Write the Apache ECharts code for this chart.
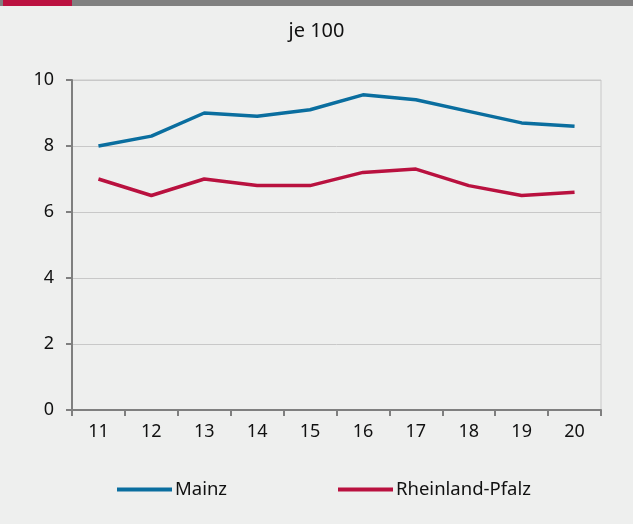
<!DOCTYPE html>
<html>
<head>
<meta charset="utf-8">
<script src="https://cdn.jsdelivr.net/npm/echarts@6/dist/echarts.min.js"></script>
<style>
  html, body { margin: 0; padding: 0; background: #eeefee; }
  #chart { width: 633px; height: 524px; }
</style>
</head>
<body>
<div id="chart"></div>
<script>
  var categories = ['11', '12', '13', '14', '15', '16', '17', '18', '19', '20'];
  var mainz = [8.0, 8.3, 9.0, 8.9, 9.1, 9.55, 9.4, 9.05, 8.7, 8.6];
  var rlp = [7.0, 6.5, 7.0, 6.8, 6.8, 7.2, 7.3, 6.8, 6.5, 6.6];
  var seriesNames = ['Mainz', 'Rheinland-Pfalz'];
  var colors = ['#0a6e9f', '#b9113f'];

  var font = '"Noto Sans", sans-serif';
  var chart = echarts.init(document.getElementById('chart'));
  var option = {
    backgroundColor: '#eeefee',
    color: colors,
    animation: false,
    title: {
      text: 'je 100',
      left: 'center',
      top: 16,
      textStyle: { color: '#111', fontSize: 20, fontWeight: 'normal', fontFamily: font }
    },
    graphic: [
      { type: 'rect', shape: { x: 0, y: 0, width: 633, height: 6 }, style: { fill: '#808080' } },
      { type: 'rect', shape: { x: 3, y: 0, width: 69, height: 6 }, style: { fill: '#bb1240' } }
    ],
    legend: [
      {
        data: [seriesNames[0]],
        left: 112, top: 475,
        itemWidth: 55, itemHeight: 4, itemGap: 4,
        icon: 'rect',
        textStyle: { color: '#111', fontSize: 18.5, fontFamily: font, padding: [0, 0, 0, -2] }
      },
      {
        data: [seriesNames[1]],
        left: 333, top: 475,
        itemWidth: 55, itemHeight: 4, itemGap: 4,
        icon: 'rect',
        textStyle: { color: '#111', fontSize: 18.5, fontFamily: font, padding: [0, 0, 0, -2] }
      }
    ],
    grid: {
      left: 72, right: 32, top: 80, bottom: 114,
      show: true, borderColor: '#c8c8c8', borderWidth: 1, backgroundColor: 'transparent'
    },
    xAxis: {
      type: 'category',
      data: categories,
      boundaryGap: true,
      axisLine: { lineStyle: { color: '#7f7f7f', width: 2 } },
      axisTick: { show: true, length: 6, lineStyle: { color: '#7f7f7f', width: 2 } },
      axisLabel: { color: '#111', fontSize: 18, fontFamily: font, margin: 13 },
      splitLine: { show: false }
    },
    yAxis: {
      type: 'value',
      min: 0, max: 10, interval: 2,
      axisLine: { show: true, lineStyle: { color: '#7f7f7f', width: 2 } },
      axisTick: { show: true, length: 6, lineStyle: { color: '#7f7f7f', width: 2 } },
      axisLabel: { color: '#111', fontSize: 18, fontFamily: font, margin: 18 },
      splitLine: { lineStyle: { color: '#c8c8c8', width: 1 } }
    },
    series: [
      {
        name: seriesNames[0], type: 'line', data: mainz,
        symbol: 'none', lineStyle: { width: 3.5, color: colors[0] }
      },
      {
        name: seriesNames[1], type: 'line', data: rlp,
        symbol: 'none', lineStyle: { width: 3.5, color: colors[1] }
      }
    ]
  };
  chart.setOption(option);
</script>
</body>
</html>
